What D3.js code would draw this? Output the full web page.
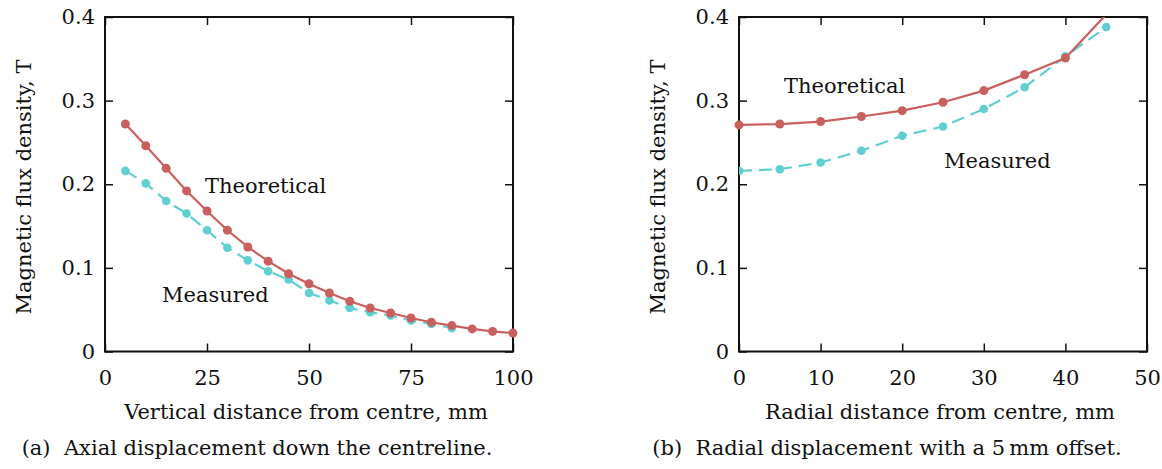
<!DOCTYPE html>
<html>
<head>
<meta charset="utf-8">
<script src="https://cdn.jsdelivr.net/npm/d3@7"></script>
<style>
  body { margin: 0; background: white; }
</style>
</head>
<body>
<div id="chart"></div>
<script>
// (a) axial displacement down the centreline
var axialX = [5, 10, 15, 20, 25, 30, 35, 40, 45, 50, 55, 60, 65, 70, 75, 80, 85, 90, 95, 100];
var axialTheory = [0.272, 0.246, 0.219, 0.192, 0.168, 0.145, 0.125, 0.108, 0.093, 0.081, 0.070, 0.060, 0.052, 0.046, 0.040, 0.035, 0.031, 0.027, 0.024, 0.022];
var axialMeasuredX = [5, 10, 15, 20, 25, 30, 35, 40, 45, 50, 55, 60, 65, 70, 75, 80, 85];
var axialMeasured = [0.216, 0.201, 0.180, 0.165, 0.145, 0.124, 0.109, 0.096, 0.086, 0.070, 0.061, 0.052, 0.047, 0.043, 0.037, 0.033, 0.028];

// (b) radial displacement with a 5 mm offset
var radialX = [0, 5, 10, 15, 20, 25, 30, 35, 40, 45];
var radialTheory = [0.271, 0.272, 0.275, 0.281, 0.288, 0.298, 0.312, 0.331, 0.351, 0.403];
var radialMeasured = [0.216, 0.218, 0.226, 0.240, 0.258, 0.269, 0.290, 0.316, 0.353, 0.388];

var axialTicks = [0, 25, 50, 75, 100];
var radialTicks = [0, 10, 20, 30, 40, 50];
var fluxTicks = [0, 0.1, 0.2, 0.3, 0.4];

var red = "#c9605e";
var cyan = "#5fcfcf";
var serif = "DejaVu Serif";

var W = 1162, H = 469;
var svg = d3.select("#chart").append("svg")
    .attr("width", W)
    .attr("height", H)
    .attr("font-family", serif);

function fmtFlux(d) {
    return d === 0 ? "0" : d3.format(".1f")(d);
}

function label(sel) {
    return sel.attr("font-family", serif).attr("font-size", "21px").attr("fill", "#111");
}

function drawPanel(p) {
    var w = 408, h = 334.5;
    var g = svg.append("g").attr("transform", "translate(" + p.left + "," + 17 + ")");

    var x = d3.scaleLinear().domain(p.xDomain).range([0, w]);
    var y = d3.scaleLinear().domain([0, 0.4]).range([h, 0]);

    var clipId = "clip" + p.id;
    g.append("clipPath").attr("id", clipId)
        .append("rect").attr("width", w).attr("height", h);

    // axes, ticks pointing inwards, mirrored on top and right
    var ax = g.append("g").attr("transform", "translate(0," + h + ")")
        .call(d3.axisBottom(x).tickValues(p.xTicks).tickSize(-8).tickPadding(19));
    var ay = g.append("g")
        .call(d3.axisLeft(y).tickValues(fluxTicks).tickFormat(fmtFlux).tickSize(-8).tickPadding(10));
    var at = g.append("g")
        .call(d3.axisTop(x).tickValues(p.xTicks).tickSize(-8).tickFormat(""));
    var ar = g.append("g").attr("transform", "translate(" + w + ",0)")
        .call(d3.axisRight(y).tickValues(fluxTicks).tickSize(-8).tickFormat(""));

    [ax, ay, at, ar].forEach(function(a) {
        a.attr("font-family", serif);
        a.select(".domain").remove();
        a.selectAll("line").attr("stroke", "#111").attr("stroke-width", 1.5);
        label(a.selectAll("text"));
    });

    g.append("rect")
        .attr("width", w).attr("height", h)
        .attr("fill", "none").attr("stroke", "#111").attr("stroke-width", 2);

    var line = d3.line()
        .x(function(d) { return x(d[0]); })
        .y(function(d) { return y(d[1]); });

    var theory = p.theoryX.map(function(v, i) { return [v, p.theory[i]]; });
    var meas = p.measX.map(function(v, i) { return [v, p.meas[i]]; });

    var plot = g.append("g").attr("clip-path", "url(#" + clipId + ")");

    plot.append("path").datum(meas)
        .attr("d", line)
        .attr("fill", "none").attr("stroke", cyan).attr("stroke-width", 2.2)
        .attr("stroke-dasharray", "13,7");
    plot.selectAll(".mdot").data(meas.filter(function(d) { return d[1] <= 0.4; }))
        .enter().append("circle")
        .attr("cx", function(d) { return x(d[0]); })
        .attr("cy", function(d) { return y(d[1]); })
        .attr("r", 4.3).attr("fill", cyan);

    plot.append("path").datum(theory)
        .attr("d", line)
        .attr("fill", "none").attr("stroke", red).attr("stroke-width", 2.2);
    g.selectAll(".tdot").data(theory.filter(function(d) { return d[1] <= 0.4; }))
        .enter().append("circle")
        .attr("cx", function(d) { return x(d[0]); })
        .attr("cy", function(d) { return y(d[1]); })
        .attr("r", 4.5).attr("fill", red);

    // curve labels
    label(g.append("text")).attr("x", p.theoryLabel[0] - p.left).attr("y", p.theoryLabel[1] - 17)
        .text("Theoretical");
    label(g.append("text")).attr("x", p.measLabel[0] - p.left).attr("y", p.measLabel[1] - 17)
        .text("Measured");

    // axis titles
    label(svg.append("text"))
        .attr("transform", "translate(" + (p.left - 74) + ",187) rotate(-90)")
        .attr("text-anchor", "middle")
        .text("Magnetic flux density, T");
    label(svg.append("text"))
        .attr("x", p.left + w / 2 - 3).attr("y", 419)
        .attr("text-anchor", "middle")
        .text(p.xLabel);
    label(svg.append("text"))
        .attr("x", p.captionX).attr("y", 455)
        .attr("text-anchor", "middle")
        .text(p.caption);
}

drawPanel({
    id: "a", left: 105, xDomain: [0, 100], xTicks: axialTicks,
    theoryX: axialX, theory: axialTheory, measX: axialMeasuredX, meas: axialMeasured,
    theoryLabel: [205, 193], measLabel: [162, 302],
    xLabel: "Vertical distance from centre, mm",
    caption: "(a)\u00a0 Axial displacement down the centreline.", captionX: 257
});

drawPanel({
    id: "b", left: 739, xDomain: [0, 50], xTicks: radialTicks,
    theoryX: radialX, theory: radialTheory, measX: radialX, meas: radialMeasured,
    theoryLabel: [784, 93], measLabel: [944, 168],
    xLabel: "Radial distance from centre, mm",
    caption: "(b)\u00a0 Radial displacement with a 5\u2009mm offset.", captionX: 887
});
</script>
</body>
</html>
